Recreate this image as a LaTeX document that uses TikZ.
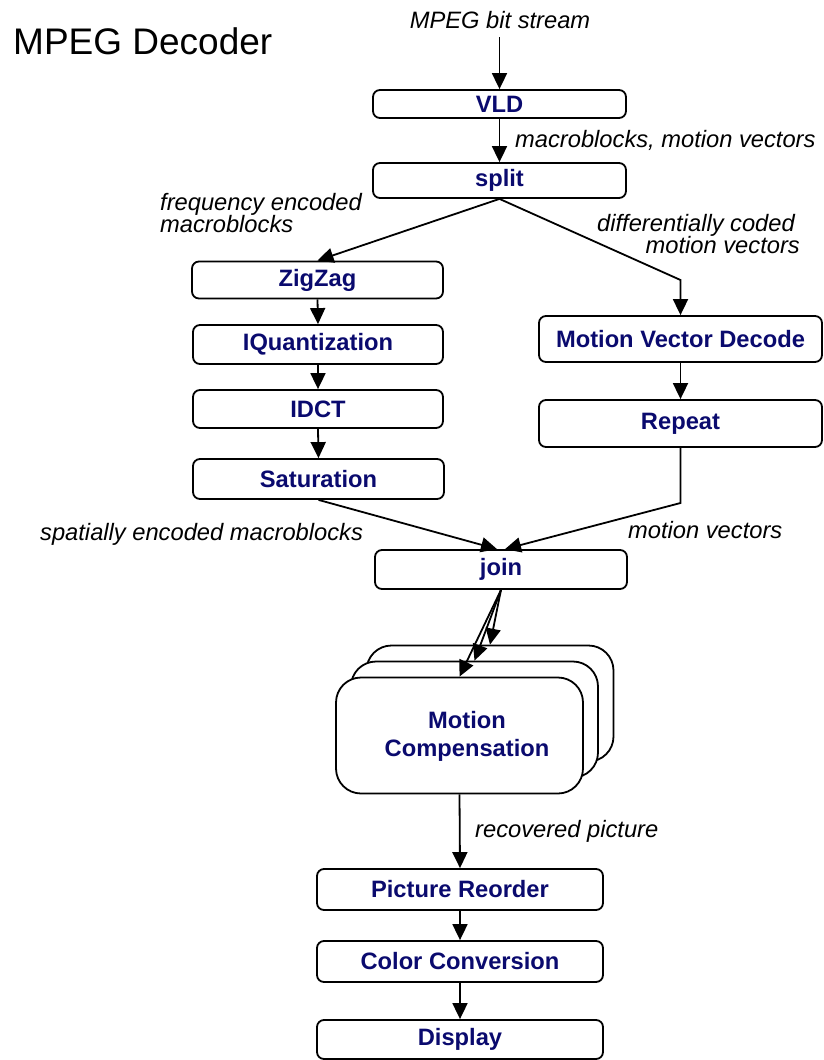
\documentclass[tikz,border=0pt]{standalone}
\usepackage{fontspec}
\setmainfont{Liberation Sans}
\usetikzlibrary{arrows.meta}
\definecolor{boxtext}{RGB}{10,10,110}
\begin{document}
\begin{tikzpicture}[x=1pt,y=-1pt,
  stage/.style={draw, line width=1.8pt, rounded corners=7pt, fill=white,
    inner sep=0pt, text=boxtext, font=\bfseries\fontsize{23.7}{28}\selectfont},
  mcbox/.style={draw, line width=1.8pt, rounded corners=25pt, fill=white,
    inner sep=0pt, minimum width=247pt, minimum height=116pt},
  flow/.style={line width=1.8pt, -{Triangle[length=16pt,width=15pt]}},
  note/.style={font=\itshape\fontsize{23.7}{28}\selectfont, inner sep=0pt},
]
\useasboundingbox (0,0) rectangle (823,1060);

% title
\node[inner sep=0pt, anchor=base west, font=\fontsize{37}{44}\selectfont] (title) at (13,54) {MPEG Decoder};

% processing stages
\node[stage, minimum width=253pt, minimum height=28pt] (vld)   at (499.5,104)   {VLD};
\node[stage, minimum width=253pt, minimum height=35pt] (split) at (499.5,180.5) {split};
\node[stage, minimum width=251pt, minimum height=37pt] (zigzag) at (317.5,280)  {ZigZag};
\node[stage, minimum width=250pt, minimum height=39pt] (iquant) at (318,344.5)  {IQuantization};
\node[stage, minimum width=250pt, minimum height=38pt] (idct)   at (318,409)    {IDCT};
\node[stage, minimum width=251pt, minimum height=40pt] (sat)    at (318.5,479)  {Saturation};
\node[stage, minimum width=283pt, minimum height=46pt] (mvd)    at (680.5,339)  {Motion Vector Decode};
\node[stage, minimum width=283pt, minimum height=47pt] (repeat) at (680.5,423.5) {Repeat};
\node[stage, minimum width=252pt, minimum height=39pt] (join)   at (501,569.5)  {join};

% replicated motion compensation stage
\node[mcbox] (mcback)  at (490,703.5) {};
\node[mcbox] (mcmid)   at (474.5,719.5) {};
\node[mcbox] (mcfront) at (459.5,735.5) {};
\node[inner sep=0pt, align=center, text=boxtext,
      font=\bfseries\fontsize{23.7}{28}\selectfont] (mclabel) at (467,736) {Motion\\Compensation};

\node[stage, minimum width=286pt, minimum height=41pt] (reorder) at (460,889.5)  {Picture Reorder};
\node[stage, minimum width=286pt, minimum height=41pt] (color)   at (460,961.5)  {Color Conversion};
\node[stage, minimum width=286pt, minimum height=39pt] (display) at (460,1039.5) {Display};

% stream labels
\node[note, anchor=base] (bitstream) at (500,28) {MPEG bit stream};
\node[note, anchor=base west] (mbmv) at (515,147) {macroblocks, motion vectors};
\node[note, anchor=base west] (freqA) at (160,210) {frequency encoded};
\node[note, anchor=base west] (freqB) at (160,232) {macroblocks};
\node[note, anchor=base east] (diffA) at (795,231) {differentially coded};
\node[note, anchor=base east] (diffB) at (800,253) {motion vectors};
\node[note, anchor=base west] (spatial) at (40,540) {spatially encoded macroblocks};
\node[note, anchor=base west] (mvecs) at (628,538) {motion vectors};
\node[note, anchor=base west] (recov) at (475,837) {recovered picture};

% connector points
\coordinate (inlet) at (499.5,37);
\coordinate (bendR) at (680.5,280);
\coordinate (bendJ) at (680.5,503);

% connectors
\draw[flow] (inlet) -- (vld.north);
\draw[flow] (vld.south) -- (split.north);
\draw[flow] (split.south) -- (zigzag.north);
\draw[flow] (split.south) -- (bendR) -- (mvd.north);
\draw[flow] (zigzag.south) -- (iquant.north);
\draw[flow] (iquant.south) -- (idct.north);
\draw[flow] (idct.south) -- (sat.north);
\draw[flow] (mvd.south) -- (repeat.north);
\draw[flow] (sat.south) -- ([xshift=-4pt]join.north);
\draw[flow] (repeat.south) -- (bendJ) -- ([xshift=4pt]join.north);
\draw[flow] (join.south) -- (mcback.north);
\draw[flow] (join.south) -- (mcmid.north);
\draw[flow] (join.south) -- (mcfront.north);
\draw[flow] (mcfront.south) -- (reorder.north);
\draw[flow] (reorder.south) -- (color.north);
\draw[flow] (color.south) -- (display.north);
\end{tikzpicture}
\end{document}
